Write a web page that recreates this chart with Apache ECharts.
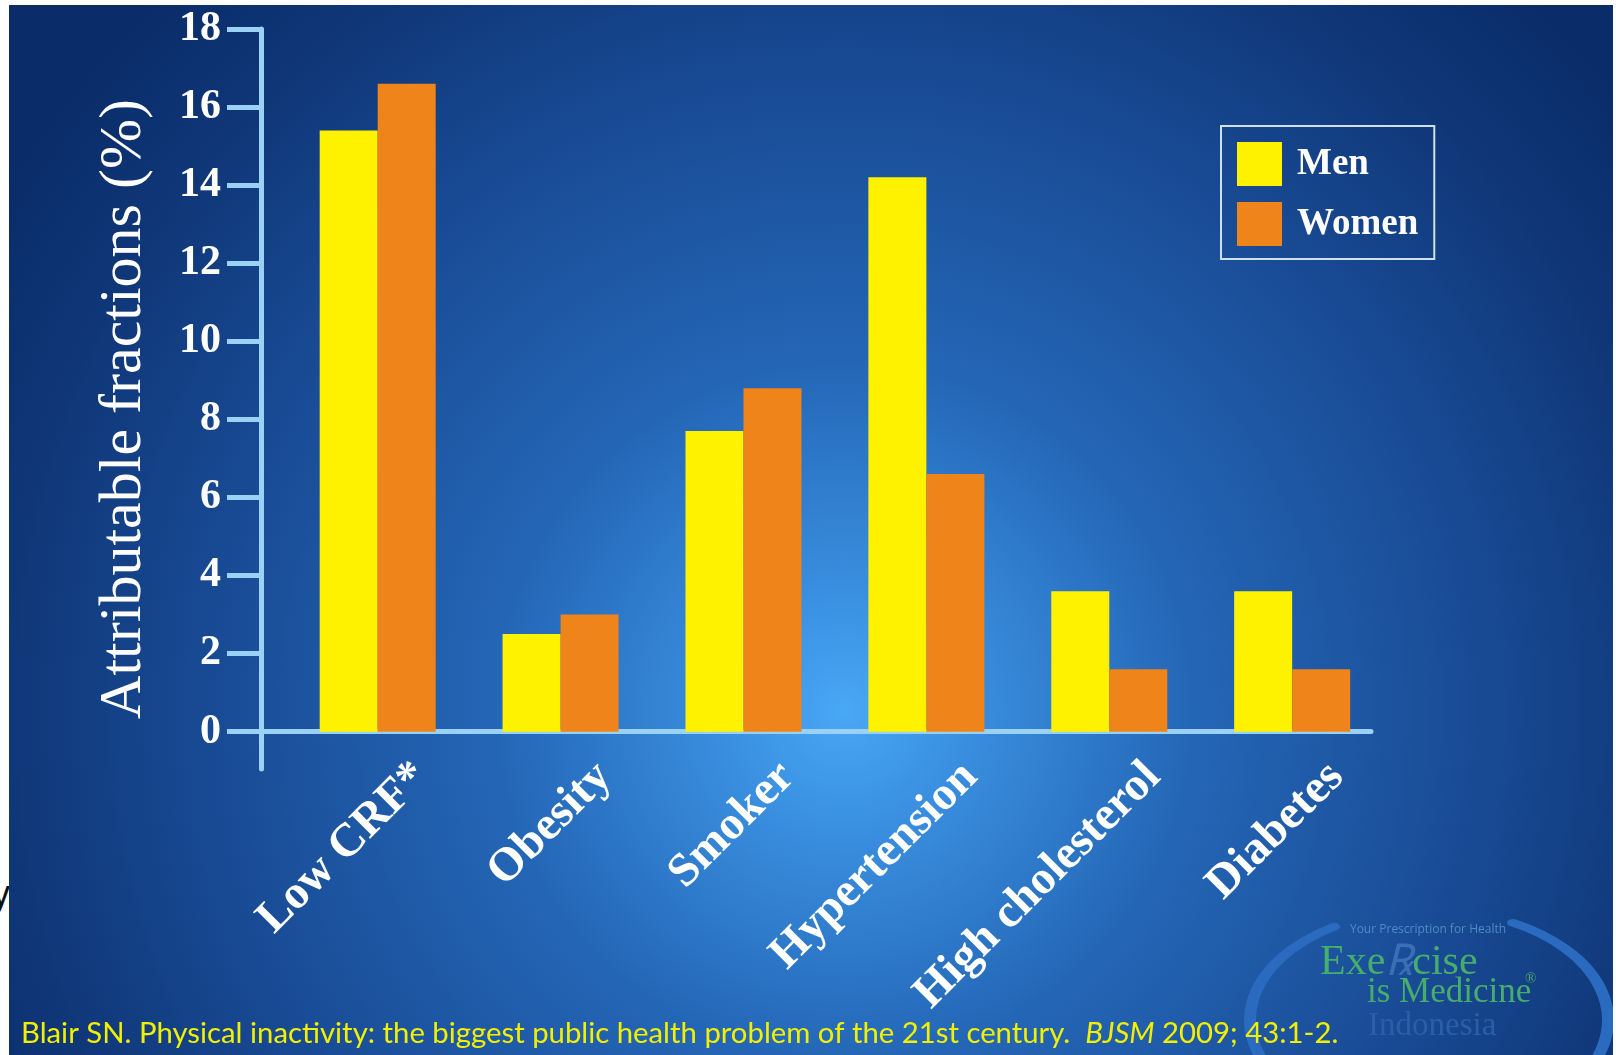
<!DOCTYPE html>
<html>
<head>
<meta charset="utf-8">
<script src="https://cdn.jsdelivr.net/npm/echarts@6/dist/echarts.min.js"></script>
<style>
  html, body { margin: 0; padding: 0; background: #fff; width: 1616px; height: 1055px; overflow: hidden; position: relative; }
  #edge { position: absolute; left: -8px; top: 876px; font: 36px/36px 'Liberation Sans', Arial, sans-serif; color: #111; }
  #chart { position: absolute; left: 9px; top: 5px; width: 1604px; height: 1050px; }
</style>
</head>
<body>
<div id="edge">y</div>
<div id="chart"></div>
<script>
// Risk factors and attributable fractions (%) of deaths, by sex
const categories = ['Low CRF*', 'Obesity', 'Smoker', 'Hypertension', 'High cholesterol', 'Diabetes'];
const menValues = [15.4, 2.5, 7.7, 14.2, 3.6, 3.6];
const womenValues = [16.6, 3.0, 8.8, 6.6, 1.6, 1.6];
const yTicks = [0, 2, 4, 6, 8, 10, 12, 14, 16, 18];
const seriesNames = ['Men', 'Women'];
const yTitle = 'Attributable fractions (%)';
const citationMain = 'Blair SN. Physical inactivity: the biggest public health problem of the 21st century.  ';
const citationJournal = 'BJSM';
const citationRef = ' 2009; 43:1-2.';

const SERIF = "'Liberation Serif', 'Times New Roman', serif";
const AXIS_BLUE = '#9bd1f4';

const chart = echarts.init(document.getElementById('chart'), null, { renderer: 'canvas' });

const option = {
  animation: false,
  backgroundColor: new echarts.graphic.RadialGradient(0.521, 0.672, 0.95, [
    { offset: 0, color: '#48a8f6' },
    { offset: 0.12, color: '#3a8fe0' },
    { offset: 0.35, color: '#2466b6' },
    { offset: 0.6, color: '#1a4e99' },
    { offset: 0.85, color: '#0f3677' },
    { offset: 1, color: '#0a2c68' }
  ]),
  grid: [
    // plot area with the bars and both axis lines
    { left: 252, right: 242, top: 24, bottom: 286 },
    // label band: slanted category names sit a little right of their bars
    { left: 321, right: 185, top: 24, bottom: 323 }
  ],
  legend: {
    data: seriesNames,
    left: 1212,
    top: 121,
    orient: 'vertical',
    icon: 'rect',
    itemWidth: 45,
    itemHeight: 44,
    itemGap: 16,
    padding: [16, 16, 13, 16],
    borderColor: '#cfe0ea',
    borderWidth: 2,
    selectedMode: false,
    textStyle: { color: '#fff', fontFamily: SERIF, fontWeight: 'bold', fontSize: 37, padding: [6, 0, 0, 10] }
  },
  xAxis: [
    {
      type: 'value',
      gridIndex: 0,
      min: -0.638,
      max: 5.431,
      splitLine: { show: false },
      axisTick: { show: false },
      axisLabel: { show: false },
      axisLine: { show: true, onZero: true, lineStyle: { color: AXIS_BLUE, width: 5 } }
    },
    {
      type: 'category',
      gridIndex: 1,
      data: categories,
      boundaryGap: true,
      axisLine: { show: false },
      axisTick: { show: false },
      splitLine: { show: false },
      axisLabel: {
        interval: 0,
        rotate: 45,
        margin: 38,
        color: '#fff',
        fontFamily: SERIF,
        fontWeight: 'bold',
        fontSize: 47
      }
    }
  ],
  yAxis: [
    {
      type: 'value',
      gridIndex: 0,
      min: -0.955,
      max: 18,
      splitLine: { show: false },
      axisLine: { show: true, onZero: false, lineStyle: { color: AXIS_BLUE, width: 5 } },
      axisTick: { show: true, length: 34, customValues: yTicks, lineStyle: { color: AXIS_BLUE, width: 5 } },
      axisLabel: { customValues: yTicks, margin: 40, color: '#fff', fontFamily: SERIF, fontWeight: 'bold', fontSize: 42 },
      name: yTitle,
      nameLocation: 'middle',
      nameGap: 107,
      nameTextStyle: { color: '#fff', fontFamily: SERIF, fontSize: 60, padding: [0, 20, 0, 0] }
    },
    {
      type: 'value',
      gridIndex: 1,
      show: false
    }
  ],
  series: [
    {
      name: seriesNames[0],
      type: 'bar',
      xAxisIndex: 0,
      yAxisIndex: 0,
      barWidth: 58,
      barGap: '0%',
      itemStyle: { color: '#fff200' },
      data: menValues.map((v, i) => [i, v])
    },
    {
      name: seriesNames[1],
      type: 'bar',
      xAxisIndex: 0,
      yAxisIndex: 0,
      barWidth: 58,
      barGap: '0%',
      itemStyle: { color: '#ef841a' },
      data: womenValues.map((v, i) => [i, v])
    }
  ],
  graphic: [
    // logo swoosh
    {
      type: 'arc', x: 1420, y: 1015, scaleY: 0.615, silent: true, z: 1,
      shape: { cx: 0, cy: 0, r: 179, startAngle: Math.PI * 100 / 180, endAngle: Math.PI * 238 / 180 },
      style: { stroke: '#2a6bc0', lineWidth: 12, fill: null, lineCap: 'round' }
    },
    {
      type: 'arc', x: 1420, y: 1015, scaleY: 0.615, silent: true, z: 1,
      shape: { cx: 0, cy: 0, r: 179, startAngle: -Math.PI * 62 / 180, endAngle: Math.PI * 80 / 180 },
      style: { stroke: '#2a6bc0', lineWidth: 12, fill: null, lineCap: 'round' }
    },
    {
      type: 'text', x: 1419, y: 925, silent: true, z: 2,
      style: { text: 'Your Prescription for Health', fill: '#4d8cc4', fontFamily: "'Open Sans', sans-serif", fontSize: 12, align: 'center', verticalAlign: 'middle' }
    },
    {
      type: 'text', x: 1311, y: 958, silent: true, z: 2,
      style: {
        text: '{g|Exe}{r|\u211E}{g|cise}', align: 'left', verticalAlign: 'middle',
        rich: {
          g: { fill: '#46ad6c', fontFamily: SERIF, fontSize: 42 },
          r: { fill: '#3b6fb5', fontFamily: SERIF, fontSize: 44, fontStyle: 'italic' }
        }
      }
    },
    {
      type: 'text', x: 1358, y: 988, silent: true, z: 2,
      style: { text: 'is Medicine', fill: '#46ad6c', fontFamily: SERIF, fontSize: 35, align: 'left', verticalAlign: 'middle' }
    },
    {
      type: 'text', x: 1516, y: 974, silent: true, z: 2,
      style: { text: '\u00AE', fill: '#46ad6c', fontFamily: SERIF, fontSize: 15, align: 'left', verticalAlign: 'middle' }
    },
    {
      type: 'text', x: 1359, y: 1021, silent: true, z: 2,
      style: { text: 'Indonesia', fill: '#2b5ea6', fontFamily: SERIF, fontSize: 33, align: 'left', verticalAlign: 'middle' }
    },
    // source line
    {
      type: 'text', x: 12, y: 1029, silent: true, z: 3,
      style: {
        text: '{n|' + citationMain + '}{i|' + citationJournal + '}{n|' + citationRef + '}',
        align: 'left', verticalAlign: 'middle',
        rich: {
          n: { fill: '#f2f000', fontFamily: "Lato, 'Open Sans', sans-serif", fontSize: 29.3 },
          i: { fill: '#f2f000', fontFamily: "Lato, 'Open Sans', sans-serif", fontSize: 29.3, fontStyle: 'italic' }
        }
      }
    }
  ]
};

chart.setOption(option);
</script>
</body>
</html>
